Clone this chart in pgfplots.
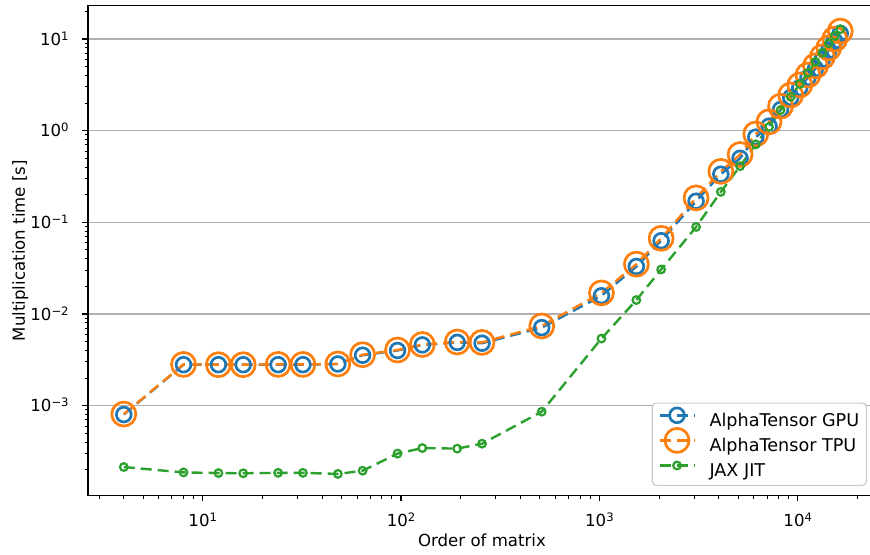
\documentclass[border=0pt]{standalone}
\usepackage{fontspec}
\setmainfont{DejaVu Sans}
\usepackage{pgfplots}
\pgfplotsset{compat=1.18}

\definecolor{tabblue}{HTML}{1F77B4}
\definecolor{taborange}{HTML}{FF7F0E}
\definecolor{tabgreen}{HTML}{2CA02C}
\definecolor{gridgray}{HTML}{B0B0B0}
\definecolor{legendgray}{HTML}{CCCCCC}

% power-of-ten tick label in the text font
\newcommand\pw[1]{10\raisebox{2.5pt}{\fontsize{5.8}{6}\selectfont #1}}

% timings [s] against matrix order
\pgfplotstableread{
n      gpu      tpu      jax
4      8.0e-4   8.1e-4   2.14e-4
8      2.8e-3   2.82e-3  1.87e-4
12     2.8e-3   2.8e-3   1.84e-4
16     2.8e-3   2.8e-3   1.83e-4
24     2.8e-3   2.82e-3  1.85e-4
32     2.8e-3   2.82e-3  1.85e-4
48     2.85e-3  2.85e-3  1.80e-4
64     3.55e-3  3.6e-3   1.95e-4
96     4.0e-3   4.05e-3  3.0e-4
128    4.6e-3   4.65e-3  3.45e-4
192    4.9e-3   4.95e-3  3.4e-4
256    4.8e-3   4.9e-3   3.85e-4
512    7.1e-3   7.4e-3   8.6e-4
1024   0.0158   0.0170   5.4e-3
1536   0.033    0.035    0.0142
2048   0.063    0.067    0.0306
3072   0.17     0.185    0.089
4096   0.335    0.36     0.215
5120   0.50     0.55     0.41
6144   0.85     0.92     0.71
7168   1.12     1.25     1.10
8192   1.7      1.85     1.68
9216   2.3      2.45     2.34
10240  2.95     3.15     3.23
11264  3.8      4.05     4.29
12288  4.75     5.1      5.65
13312  6.0      6.4      7.08
14336  7.5      8.0      8.97
15360  9.5      10.0     10.8
16384  11.5     12.2     12.8
}\timings

\begin{document}
\fontsize{8.3}{10}\selectfont
\begin{tikzpicture}
\begin{axis}[
  name=ax,
  xmode=log, ymode=log,
  scale only axis,
  width=394pt, height=244.9pt,
  xmin=2.64, xmax=24810,
  ymin=1.047e-4, ymax=23.1,
  axis line style={black, line width=0.7pt},
  tick pos=left, tick align=outside,
  major tick length=3pt, minor tick length=1.7pt,
  tick style={black, line width=0.7pt},
  minor tick style={black, line width=0.5pt},
  xtick={10,100,1000,10000},
  xticklabels={\pw{1},\pw{2},\pw{3},\pw{4}},
  minor xtick={3,4,5,6,7,8,9,20,30,40,50,60,70,80,90,200,300,400,500,600,700,800,900,2000,3000,4000,5000,6000,7000,8000,9000,20000},
  ytick={0.001,0.01,0.1,1,10},
  yticklabels={\pw{−3},\pw{−2},\pw{−1},\pw{0},\pw{1}},
  minor ytick={0.0002,0.0003,0.0004,0.0005,0.0006,0.0007,0.0008,0.0009,
    0.002,0.003,0.004,0.005,0.006,0.007,0.008,0.009,
    0.02,0.03,0.04,0.05,0.06,0.07,0.08,0.09,
    0.2,0.3,0.4,0.5,0.6,0.7,0.8,0.9,
    2,3,4,5,6,7,8,9,20},
  xticklabel style={anchor=base, inner sep=0pt, yshift=-12.6pt},
  yticklabel style={anchor=base east, inner sep=0pt, xshift=-6.5pt, yshift=-3pt},
  ymajorgrids,
  major grid style={gridgray, line width=0.7pt},
  xlabel={Order of matrix},
  ylabel={Multiplication time [s]},
  xlabel style={at={([yshift=-25.6pt]axis description cs:0.5,0)}, anchor=base},
  ylabel style={at={([xshift=-31.5pt]axis description cs:0,0.5)}, anchor=base},
  legend style={at={(1,0)}, anchor=south east, xshift=-4.5pt, yshift=4.75pt,
    draw=legendgray, line width=0.6pt, rounded corners=2pt, fill=white,
    inner xsep=3.6pt, inner ysep=3pt, row sep=2.5pt, column sep=7.5pt,
    font=\fontsize{8.8}{10}\selectfont,
    nodes={inner sep=0pt, text height=6.2pt, text depth=1.5pt}},
  legend cell align=left,
  legend image code/.code={
    \path[use as bounding box, draw=none] (0pt,-1.5pt) rectangle (17.5pt,6.2pt);
    \draw[mark repeat=2, mark phase=2, #1, yshift=3.1pt]
      plot coordinates {(0pt,0pt)(8.75pt,0pt)(17.5pt,0pt)};},
]
\addplot[tabblue, line width=1.2pt, dash pattern=on 5.5pt off 3pt,
  mark=o, mark size=3.7pt,
  mark options={solid, line width=1.35pt}] table[x=n, y=gpu] {\timings};
\addlegendentry{AlphaTensor GPU}
\addplot[taborange, line width=1.2pt, dash pattern=on 5.5pt off 3pt,
  mark=o, mark size=6pt,
  mark options={solid, line width=1.35pt}] table[x=n, y=tpu] {\timings};
\addlegendentry{AlphaTensor TPU}
\addplot[tabgreen, line width=1.2pt, dash pattern=on 5.5pt off 3pt,
  mark=o, mark size=1.9pt,
  mark options={solid, line width=1.1pt}] table[x=n, y=jax] {\timings};
\addlegendentry{JAX JIT}
\end{axis}
\pgfresetboundingbox
\path[use as bounding box] ([shift={(-44pt,-29.75pt)}]ax.south west)
  rectangle ([shift={(391pt,247.75pt)}]ax.south west);
\end{tikzpicture}
\end{document}
